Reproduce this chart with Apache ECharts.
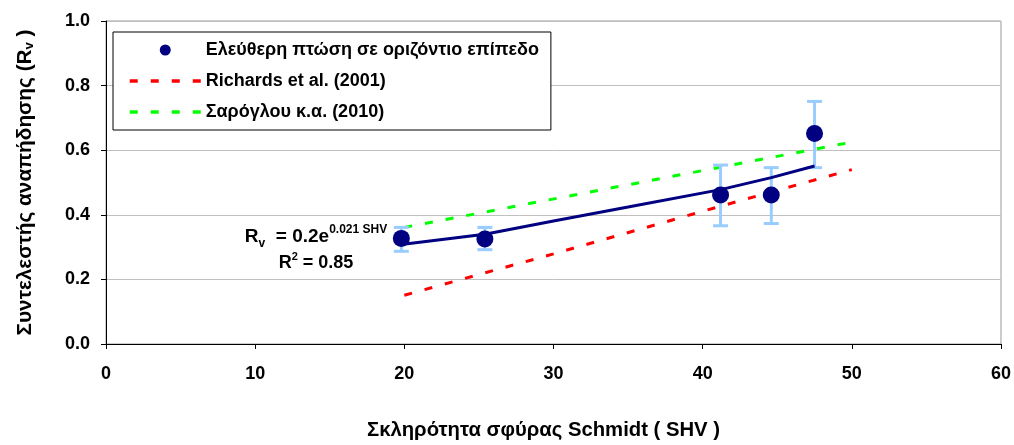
<!DOCTYPE html>
<html>
<head>
<meta charset="utf-8">
<script src="https://cdn.jsdelivr.net/npm/echarts@6/dist/echarts.min.js"></script>
<style>html,body{margin:0;padding:0;background:#fff}#c{width:1014px;height:445px}</style>
</head>
<body>
<div id="c"></div>
<script>
// Measured data (Schmidt hammer SHV vs rebound coefficient Rv)
const shv = [19.8, 25.4, 41.2, 44.6, 47.5];
const rv = [0.327, 0.325, 0.461, 0.461, 0.652];
const errLow = [0.287, 0.292, 0.366, 0.373, 0.546];
const errHigh = [0.361, 0.361, 0.554, 0.546, 0.751];
// Exponential trendline as drawn
const trendX = [19.8, 25.4, 30, 35, 41.2, 44.6, 47.5];
const trendY = [0.308, 0.340, 0.381, 0.424, 0.478, 0.515, 0.551];
// Richards et al. (2001)
const richX = [20, 30, 41, 50];
const richY = [0.151, 0.279, 0.424, 0.540];
// Σαρόγλου κ.α. (2010)
const sarX = [20, 35, 50];
const sarY = [0.361, 0.493, 0.625];
// Axis ticks
const xTicks = [0, 10, 20, 30, 40, 50, 60];
const yTicks = [0, 0.2, 0.4, 0.6, 0.8, 1.0];

const names = ['Ελεύθερη πτώση σε οριζόντιο επίπεδο', 'Richards et al. (2001)', 'Σαρόγλου κ.α. (2010)'];
const FONT = '"Liberation Sans", Arial, sans-serif';
const zip = (a, b) => a.map((v, i) => [v, b[i]]);

const chart = echarts.init(document.getElementById('c'), null, {renderer: 'canvas'});
chart.setOption({
  animation: false,
  backgroundColor: '#fff',
  textStyle: {fontFamily: FONT},
  grid: {left: 106, right: 11, top: 21, bottom: 96, show: true, borderColor: '#9a9a9a', borderWidth: 1, backgroundColor: 'transparent'},
  legend: {
    data: [
      {name: names[0]},
      {name: names[1], itemStyle: {opacity: 0}, lineStyle: {width: 3.5}},
      {name: names[2], itemStyle: {opacity: 0}, lineStyle: {width: 3.5}}
    ],
    orient: 'vertical',
    left: 113, top: 32,
    padding: [9, 12, 9, 15],
    itemWidth: 71, itemHeight: 11, itemGap: 13,
    backgroundColor: '#fff', borderColor: '#000', borderWidth: 1, borderRadius: 0,
    textStyle: {fontFamily: FONT, fontWeight: 'bold', fontSize: 18, color: '#000', padding: [0, 0, 0, 0]},
    selectedMode: false
  },
  xAxis: {
    type: 'value', min: xTicks[0], max: xTicks[xTicks.length - 1], interval: 10,
    name: 'Σκληρότητα σφύρας Schmidt ( SHV )', nameLocation: 'middle', nameGap: 76,
    nameTextStyle: {fontFamily: FONT, fontWeight: 'bold', fontSize: 20.3, color: '#000', padding: [0, 20, 0, 0]},
    axisLine: {onZero: false, lineStyle: {color: '#000', width: 1}},
    axisTick: {show: true, inside: false, length: 5, lineStyle: {color: '#000'}},
    axisLabel: {margin: 21, fontFamily: FONT, fontWeight: 'bold', fontSize: 18, color: '#000'},
    splitLine: {show: false}
  },
  yAxis: {
    type: 'value', min: yTicks[0], max: yTicks[yTicks.length - 1], interval: 0.2,
    name: 'Συντελεστής αναπήδησης (R{sub|v} )', nameLocation: 'middle', nameGap: 70,
    nameTextStyle: {fontFamily: FONT, fontWeight: 'bold', fontSize: 20.8, color: '#000',
      rich: {sub: {fontFamily: FONT, fontWeight: 'bold', fontSize: 13, color: '#000', verticalAlign: 'bottom', padding: [8, 0, 0, 0]}}},
    axisLine: {onZero: false, lineStyle: {color: '#000', width: 1}},
    axisTick: {show: true, inside: false, length: 5, lineStyle: {color: '#000'}},
    axisLabel: {margin: 16, fontFamily: FONT, fontWeight: 'bold', fontSize: 18, color: '#000', formatter: v => v.toFixed(1)},
    splitLine: {show: true, lineStyle: {color: '#c0c0c0', width: 1}}
  },
  series: [
    {
      name: names[1], type: 'line', data: zip(richX, richY), symbol: 'none', showSymbol: false,
      lineStyle: {color: '#ff0000', width: 3, type: [8, 13]}, itemStyle: {color: '#ff0000'}, z: 2
    },
    {
      name: names[2], type: 'line', data: zip(sarX, sarY), symbol: 'none', showSymbol: false,
      lineStyle: {color: '#00ff00', width: 3, type: [8, 13]}, itemStyle: {color: '#00ff00'}, z: 2
    },
    {
      name: 'errors', type: 'custom', z: 3,
      data: shv.map((x, i) => [x, errLow[i], errHigh[i]]),
      renderItem: function (params, api) {
        const x = api.value(0);
        const pLo = api.coord([x, api.value(1)]);
        const pHi = api.coord([x, api.value(2)]);
        const hw = 7.5;
        const st = {stroke: '#99ccff', lineWidth: 3};
        return {type: 'group', children: [
          {type: 'line', shape: {x1: pHi[0], y1: pHi[1], x2: pLo[0], y2: pLo[1]}, style: st},
          {type: 'line', shape: {x1: pHi[0] - hw, y1: pHi[1], x2: pHi[0] + hw, y2: pHi[1]}, style: st},
          {type: 'line', shape: {x1: pLo[0] - hw, y1: pLo[1], x2: pLo[0] + hw, y2: pLo[1]}, style: st}
        ]};
      }
    },
    {
      name: names[0], type: 'scatter', data: zip(shv, rv), symbol: 'circle', symbolSize: 17,
      itemStyle: {color: '#000080', opacity: 1}, z: 4
    },
    {
      name: 'trend', type: 'line', data: zip(trendX, trendY), symbol: 'none', smooth: false,
      lineStyle: {color: '#000080', width: 3}, z: 5
    }
  ],
  graphic: [
    {type: 'text', x: 316, y: 237, z: 10, style: {
      text: '{b|R}{s|v}{b|  = 0.2e}{p|0.021 SHV}', align: 'center', verticalAlign: 'middle',
      rich: {
        b: {fontFamily: FONT, fontWeight: 'bold', fontSize: 19, color: '#000', lineHeight: 26, verticalAlign: 'middle'},
        s: {fontFamily: FONT, fontWeight: 'bold', fontSize: 12, color: '#000', lineHeight: 26, verticalAlign: 'bottom'},
        p: {fontFamily: FONT, fontWeight: 'bold', fontSize: 12, color: '#000', lineHeight: 26, verticalAlign: 'top'}
      }}},
    {type: 'text', x: 316, y: 263, z: 10, style: {
      text: '{b|R}{p|2}{b| = 0.85}', align: 'center', verticalAlign: 'middle',
      rich: {
        b: {fontFamily: FONT, fontWeight: 'bold', fontSize: 18, color: '#000', lineHeight: 24, verticalAlign: 'middle'},
        p: {fontFamily: FONT, fontWeight: 'bold', fontSize: 11, color: '#000', lineHeight: 24, verticalAlign: 'top'}
      }}}
  ]
});
</script>
</body>
</html>
